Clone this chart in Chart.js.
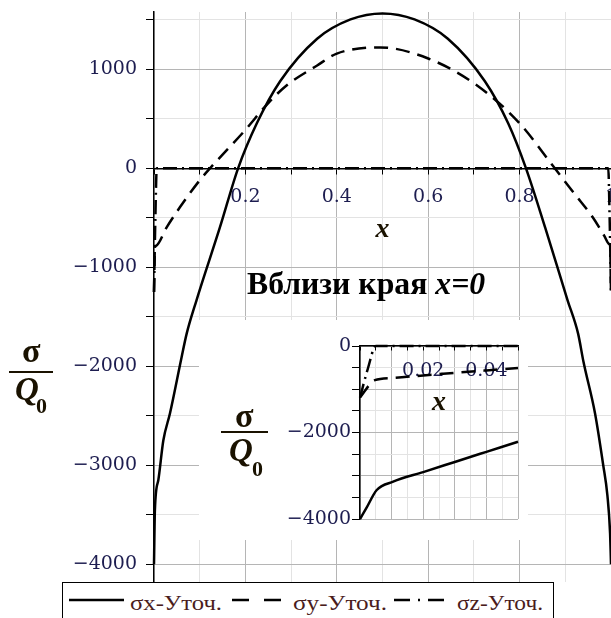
<!DOCTYPE html>
<html>
<head>
<meta charset="utf-8">
<script src="https://cdn.jsdelivr.net/npm/chart.js@4.4.0/dist/chart.umd.min.js"></script>
<style>
  html, body { margin: 0; padding: 0; background: #fff; }
  #wrap { position: relative; width: 611px; height: 618px; overflow: hidden; background: #fff; }
  #main { position: absolute; left: 0; top: 0; }
  #insetBox { position: absolute; left: 199px; top: 320px; width: 329px; height: 220px; background: #fff; }
  #inset { position: absolute; left: 0; top: 0; }
  .t { position: absolute; font-family: 'Liberation Serif', serif; line-height: 1; white-space: nowrap;
       color: #1a1200; transform-origin: 0 0; }
  .bar { position: absolute; height: 2px; background: #1a1200; }
  #legend { position: absolute; left: 62px; top: 582px; width: 490px; height: 60px;
            border: 1px solid #000; background: #fff; }
  #legend svg { position: absolute; left: 0; top: 0; }
</style>
</head>
<body>
<div id="wrap">
  <canvas id="main" width="611" height="618"></canvas>
  <div id="insetBox"><canvas id="inset" width="329" height="220"></canvas></div>

  <!-- axis label of the main plot -->
  <span class="t" style="left:22px; top:334px; font-size:34px; font-weight:bold;">σ</span>
  <div class="bar" style="left:9px; top:371px; width:44px;"></div>
  <span class="t" style="left:15px; top:373px; font-size:33px; font-weight:bold; font-style:italic;">Q</span>
  <span class="t" style="left:36px; top:395px; font-size:22px; font-weight:bold;">0</span>

  <!-- axis label of the inset -->
  <span class="t" style="left:235px; top:399px; font-size:34px; font-weight:bold;">σ</span>
  <div class="bar" style="left:221px; top:431px; width:47px;"></div>
  <span class="t" style="left:229px; top:434px; font-size:33px; font-weight:bold; font-style:italic;">Q</span>
  <span class="t" style="left:252px; top:458px; font-size:22px; font-weight:bold;">0</span>

  <span id="title" class="t" style="left:247px; top:268px; font-size:31px; font-weight:bold; color:#000;">Вблизи края <i>x=0</i></span>

  <div id="legend">
    <svg width="490" height="40">
      <line x1="6" y1="17" x2="61" y2="17" stroke="#000" stroke-width="2.5"/>
      <line x1="169" y1="17" x2="222" y2="17" stroke="#000" stroke-width="2.5" stroke-dasharray="17,15"/>
      <line x1="331" y1="17" x2="381" y2="17" stroke="#000" stroke-width="2.5" stroke-dasharray="16,8,2,8"/>
    </svg>
    <span id="lg1" class="t" style="left:67px; top:9px; font-size:22px; color:#4a1c1c;">σx-Уточ.</span>
    <span id="lg2" class="t" style="left:230px; top:9px; font-size:22px; color:#4a1c1c;">σy-Уточ.</span>
    <span id="lg3" class="t" style="left:394px; top:9px; font-size:22px; color:#4a1c1c;">σz-Уточ.</span>
  </div>
</div>

<script>
// ---- main plot, values ----
const xSx = [0, 0.002, 0.0095, 0.0204, 0.035, 0.0605, 0.0715, 0.093, 0.144, 0.184, 0.225, 0.276, 0.357,
             0.43, 0.5, 0.57, 0.643, 0.724, 0.775, 0.814, 0.856, 0.905, 0.928, 0.94, 0.965, 0.983, 0.992,
             0.998, 1];
const sx  = [-4000, -3450, -3150, -2750, -2475, -1906, -1670, -1333, -600, 0, 455, 880, 1310,
             1505, 1566, 1505, 1310, 880, 455, 0, -600, -1333, -1670, -1960, -2475, -3000, -3300,
             -3690, -4000];

const xSy = [0, 0.002, 0.004, 0.028, 0.057, 0.1, 0.1225, 0.199, 0.25, 0.29, 0.357, 0.4, 0.495, 0.6,
             0.707, 0.8, 0.877, 0.92, 0.96, 0.985, 0.996, 0.998, 1];
const sy  = [-1250, -800, -785, -593, -391, -121, 0, 384, 660, 838, 1040, 1160, 1222, 1110,
             838, 455, 0, -256, -495, -680, -765, -780, -1250];

const xSz = [0, 0.003, 0.006, 0.994, 0.997, 1];
const sz  = [-1250, -500, 0, 0, -500, -1250];

// ---- inset: near the edge x=0 ----
const xSxIn = [0, 0.002, 0.0053, 0.0105, 0.02, 0.03, 0.04, 0.05];
const sxIn  = [-4000, -3750, -3330, -3137, -2915, -2681, -2447, -2213];

const xSyIn = [0, 0.0047, 0.01, 0.02, 0.03, 0.04, 0.05];
const syIn  = [-1190, -790, -740, -680, -620, -565, -510];

const xSzIn = [0, 0.0025, 0.005, 0.05];
const szIn  = [-1190, -520, 0, 0];

// ticks and tick labels
const mainXTicks = [0, 0.1, 0.2, 0.3, 0.4, 0.5, 0.6, 0.7, 0.8, 0.9, 1];
const mainXLabels = [0.2, 0.4, 0.6, 0.8, 1];
const mainYTicks = [-4000, -3500, -3000, -2500, -2000, -1500, -1000, -500, 0, 500, 1000, 1500];
const mainYLabels = [-4000, -3000, -2000, -1000, 0, 1000];
const insetXTicks = [0, 0.005, 0.01, 0.015, 0.02, 0.025, 0.03, 0.035, 0.04, 0.045, 0.05];
const insetXLabels = [0.02, 0.04];
const insetYTicks = [-4000, -3500, -3000, -2500, -2000, -1500, -1000, -500, 0];
const insetYLabels = [-4000, -2000, 0];

const tickColor = '#1d1d50';
const tickFont = { family: "'DejaVu Serif', serif", size: 19 };
const axisTitleFont = { family: "'Liberation Serif', serif", size: 28, weight: 'bold', style: 'italic' };

function pts(xs, ys) {
    return xs.map((x, i) => ({ x: x, y: ys[i] }));
}

function lineSet(label, xs, ys, dash) {
    return {
        label: label,
        data: pts(xs, ys),
        borderColor: '#000',
        borderWidth: 2.5,
        borderDash: dash,
        pointRadius: 0,
        fill: false,
        cubicInterpolationMode: 'monotone',
        clip: 4
    };
}

function inList(v, list) {
    return list.some(t => Math.abs(t - v) < 1e-9);
}

function fmtNum(v) {
    return v < 0 ? '\u2212' + Math.abs(v) : String(v);
}

function gridColor(isMajor) {
    return isMajor ? '#b5b5b5' : '#e3e3e3';
}

function fixedTicks(values) {
    return s => { s.ticks = values.map(v => ({ value: v })); };
}

// Main chart
new Chart(document.getElementById('main'), {
    type: 'line',
    data: {
        datasets: [
            lineSet('σx-Уточ.', xSx, sx, []),
            lineSet('σy-Уточ.', xSy, sy, [14, 8]),
            lineSet('σz-Уточ.', xSz, sz, [14, 5, 2, 5])
        ]
    },
    options: {
        responsive: false,
        animation: false,
        layout: { padding: { left: 0, top: 12, right: 0, bottom: 36 } },
        plugins: { legend: { display: false }, tooltip: { enabled: false } },
        scales: {
            x: {
                type: 'linear', min: 0, max: 1, position: { y: 0 },
                afterBuildTicks: fixedTicks(mainXTicks),
                ticks: {
                    autoSkip: false, maxRotation: 0,
                    padding: 12, color: tickColor, font: tickFont,
                    callback: v => inList(v, mainXLabels) ? (Math.abs(v - 1) < 1e-9 ? '1' : v.toFixed(1)) : ''
                },
                grid: {
                    color: c => gridColor(inList(c.tick.value, mainXLabels)),
                    tickLength: 5, tickColor: '#000'
                },
                border: { color: '#000', width: 1.5 },
                title: { display: true, text: 'x', color: '#1a1200', font: axisTitleFont, padding: { top: -7, bottom: 0 } },
                afterFit: s => { s.paddingLeft = 0; s.paddingRight = 0; }
            },
            y: {
                type: 'linear', min: -4180, max: 1580, position: 'left',
                afterBuildTicks: fixedTicks(mainYTicks),
                ticks: {
                    autoSkip: false,
                    padding: 9, color: tickColor, font: tickFont,
                    callback: v => inList(v, mainYLabels) ? fmtNum(v) : ''
                },
                grid: {
                    color: c => gridColor(c.tick.value % 1000 === 0),
                    tickLength: 8, tickColor: '#000'
                },
                border: { color: '#000', width: 1.5 },
                afterFit: s => { s.width = 154; s.paddingTop = 0; s.paddingBottom = 0; }
            }
        }
    }
});

// Inset chart (near the edge x=0)
new Chart(document.getElementById('inset'), {
    type: 'line',
    data: {
        datasets: [
            lineSet('σx', xSxIn, sxIn, []),
            lineSet('σy', xSyIn, syIn, [14, 8]),
            lineSet('σz', xSzIn, szIn, [14, 5, 2, 5])
        ]
    },
    options: {
        responsive: false,
        animation: false,
        layout: { padding: { left: 0, top: 26, right: 10, bottom: 21 } },
        plugins: { legend: { display: false }, tooltip: { enabled: false } },
        scales: {
            x: {
                type: 'linear', min: 0, max: 0.05, position: { y: 0 },
                afterBuildTicks: fixedTicks(insetXTicks),
                ticks: {
                    autoSkip: false, maxRotation: 0,
                    padding: 10, color: tickColor, font: tickFont,
                    callback: v => inList(v, insetXLabels) ? v.toFixed(2) : ''
                },
                grid: {
                    color: c => gridColor(Math.round(c.tick.value * 1000) % 10 === 0),
                    tickLength: 4, tickColor: '#000'
                },
                border: { color: '#000', width: 1.5 },
                title: { display: true, text: 'x', color: '#1a1200', font: axisTitleFont, padding: { top: -7, bottom: 0 } },
                afterFit: s => { s.paddingLeft = 0; s.paddingRight = 0; }
            },
            y: {
                type: 'linear', min: -4000, max: 0, position: 'left',
                afterBuildTicks: fixedTicks(insetYTicks),
                ticks: {
                    autoSkip: false,
                    padding: 1, color: tickColor, font: tickFont,
                    callback: v => inList(v, insetYLabels) ? fmtNum(v) : ''
                },
                grid: {
                    color: c => gridColor(c.tick.value % 1000 === 0),
                    tickLength: 8, tickColor: '#000'
                },
                border: { color: '#000', width: 1.5 },
                afterFit: s => { s.width = 161; s.paddingTop = 0; s.paddingBottom = 0; }
            }
        }
    }
});

// stretch texts to the widths seen in the figure
function stretchTo(id, width) {
    const el = document.getElementById(id);
    const w = el.getBoundingClientRect().width;
    if (w > 0) el.style.transform = 'scaleX(' + (width / w).toFixed(3) + ')';
}
stretchTo('title', 238);
stretchTo('lg1', 92);
stretchTo('lg2', 94);
stretchTo('lg3', 86);
</script>
</body>
</html>
